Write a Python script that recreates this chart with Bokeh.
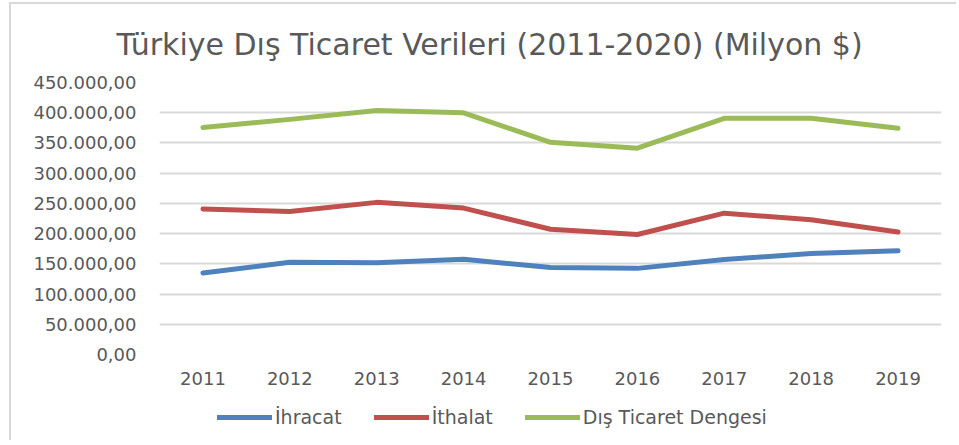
from bokeh.plotting import figure
from bokeh.layouts import column
from bokeh.models import Legend, LegendItem, Range1d, CustomJSTickFormatter, FixedTicker
from bokeh.embed import file_html
from bokeh.resources import INLINE

years = ["2011", "2012", "2013", "2014", "2015", "2016", "2017", "2018", "2019"]
ihracat = [134900, 152500, 151800, 157600, 143800, 142500, 157000, 167000, 171500]
ithalat = [240800, 236500, 251700, 242200, 207200, 198600, 233800, 223000, 202700]
denge = [375700, 389000, 403500, 399800, 351100, 341300, 390800, 391000, 374200]
y_ticks = [0, 50000, 100000, 150000, 200000, 250000, 300000, 350000, 400000, 450000]
series_names = ["İhracat", "İthalat", "Dış Ticaret Dengesi"]
colors = ["#4F81BD", "#C0504D", "#9BBB59"]
series = [ihracat, ithalat, denge]

p = figure(x_range=years, width=945, height=388, output_backend="svg",
           toolbar_location=None, title="Türkiye Dış Ticaret Verileri (2011-2020) (Milyon $)",
           min_border_left=148, min_border_right=15, min_border_top=77, min_border_bottom=38)
p.y_range = Range1d(0, 450000)

p.title.align = "left"
p.title.offset = -43
p.title.standoff = 41
p.title.text_font = "DejaVu Sans"
p.title.text_font_size = "30px"
p.title.text_font_style = "normal"
p.title.text_color = "#595959"

for vals, c in zip(series, colors):
    p.line(years, vals, line_color=c, line_width=5, line_cap="round", line_join="round")

p.yaxis.ticker = FixedTicker(ticks=y_ticks)
p.yaxis.formatter = CustomJSTickFormatter(code="""
const s = Math.round(tick).toString().replace(/\\B(?=(\\d{3})+(?!\\d))/g, '.');
return s + ',00';
""")
for ax in (p.xaxis[0], p.yaxis[0]):
    ax.axis_line_color = None
    ax.major_tick_line_color = None
    ax.minor_tick_line_color = None
    ax.major_label_text_color = "#595959"
p.yaxis.major_label_text_font = "DejaVu Sans"
p.yaxis.major_label_text_font_size = "18px"
p.yaxis.major_label_standoff = 17
p.xaxis.major_label_text_font = "DejaVu Sans"
p.xaxis.major_label_text_font_size = "18px"
p.xaxis.major_label_standoff = 11

p.xgrid.grid_line_color = None
p.ygrid.grid_line_color = "#d9d9d9"
p.ygrid.grid_line_width = 2
p.outline_line_color = None

# legend strip: a separate figure whose lines fall outside its range, so only the legend shows
p2 = figure(width=945, height=48, output_backend="svg", toolbar_location=None,
            x_axis_type=None, y_axis_type=None, x_range=years, y_range=Range1d(0, 1),
            min_border_left=0, min_border_right=0, min_border_top=0, min_border_bottom=0)
p2.grid.grid_line_color = None
p2.outline_line_color = None
items = []
for name, vals, c in zip(series_names, series, colors):
    r = p2.line(years, vals, line_color=c, line_width=5, line_cap="round")
    items.append(LegendItem(label=name, renderers=[r]))
legend = Legend(items=items, orientation="horizontal", location=(58, 12),
                glyph_width=55, glyph_height=20, label_height=20,
                label_standoff=3, spacing=32, padding=0, margin=0,
                border_line_color=None, background_fill_alpha=0,
                label_text_font="DejaVu Sans", label_text_font_size="19px",
                label_text_color="#595959")
p2.add_layout(legend)

layout = column(p, p2, spacing=0,
                styles={"margin-left": "9px", "margin-top": "2px",
                        "border-left": "2px solid #d9d9d9", "border-top": "2px solid #d9d9d9"})

open("out.html", "w").write(file_html(layout, INLINE))
